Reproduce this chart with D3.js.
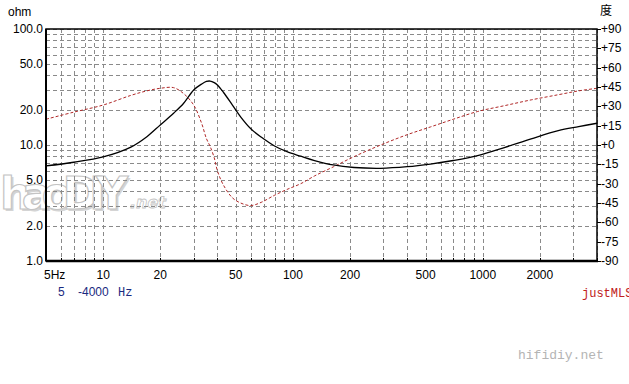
<!DOCTYPE html>
<html>
<head>
<meta charset="utf-8">
<script src="https://cdn.jsdelivr.net/npm/d3@7"></script>
<style>
    body { margin: 0; background: #fff; }
    svg { display: block; font-family: "Liberation Sans", Arial, sans-serif; }
</style>
</head>
<body>
<div id="chart"></div>
<script>
const freqHz = [5, 7, 10, 14, 17, 20, 23.5, 26.5, 30, 33, 35, 36.6, 38.5, 40, 43, 48, 53, 60, 68, 80,
    93, 110, 130, 163, 210, 290, 400, 530, 700, 940, 1300, 1800, 2500, 3200, 4000];
const impedanceOhm = [6.6, 7.1, 7.9, 9.6, 11.8, 14.9, 18.8, 22.8, 29.8, 33.5, 35.3, 35.6, 34.5, 32.9, 28.5, 22.1, 17.5, 13.8, 11.7, 9.8,
    8.75, 8.0, 7.35, 6.73, 6.4, 6.3, 6.5, 6.85, 7.35, 8.1, 9.5, 11.3, 13.3, 14.4, 15.4];
const phaseDeg = [20, 25.5, 31, 38.5, 42, 44, 44.5, 40, 31, 17, 5, -1, -10, -20, -31, -41, -45, -47, -44.5, -39,
    -34.5, -30, -24, -17, -9, 0, 8, 14, 20, 26, 30.5, 35, 39, 42, 44];

const ohmLabels = [1, 2, 5, 10, 20, 50, 100];
const hzLabels = [5, 10, 20, 50, 100, 200, 500, 1000, 2000];
const phaseLabels = [90, 75, 60, 45, 30, 15, 0, -15, -30, -45, -60, -75, -90];

const W = 629, H = 384;
const plot = { left: 46, right: 597, top: 29, bottom: 261 };

const svg = d3.select("#chart").append("svg").attr("width", W).attr("height", H);

const x = d3.scaleLog().domain([5, 4000]).range([plot.left, plot.right]);
const y = d3.scaleLog().domain([1, 100]).range([plot.bottom, plot.top]);
const yPhase = d3.scaleLinear().domain([-90, 90]).range([plot.bottom, plot.top]);

// watermark logo
const logo = svg.append("g").attr("font-family", "'DejaVu Sans', sans-serif").attr("font-weight", "bold");
logo.append("text").attr("x", 2).attr("y", 211).attr("font-size", 44).attr("textLength", 128)
    .attr("fill", "#d4d4d4").text("haoDIY");
logo.append("text").attr("x", 0).attr("y", 209).attr("font-size", 44).attr("textLength", 128)
    .attr("fill", "#fff").attr("stroke", "#c4c4c4").attr("stroke-width", 1.2).text("haoDIY");
logo.append("text").attr("x", 130).attr("y", 208).attr("font-size", 16).attr("font-style", "italic")
    .attr("fill", "#fff").attr("stroke", "#c4c4c4").attr("stroke-width", 0.8).text(".net");

// grid
const grid = svg.append("g").attr("stroke", "#8a8a8a").attr("stroke-dasharray", "4,3").attr("stroke-width", 1);
grid.selectAll(".vg").data(x.ticks()).enter().append("line")
    .attr("x1", d => Math.round(x(d)) + 0.5).attr("x2", d => Math.round(x(d)) + 0.5)
    .attr("y1", plot.top).attr("y2", plot.bottom);
grid.selectAll(".hg").data(y.ticks()).enter().append("line")
    .attr("y1", d => Math.round(y(d)) + 0.5).attr("y2", d => Math.round(y(d)) + 0.5)
    .attr("x1", plot.left).attr("x2", plot.right);

// bottom inward ticks
svg.append("g").selectAll("line").data(x.ticks()).enter().append("line")
    .attr("x1", d => Math.round(x(d)) + 0.5).attr("x2", d => Math.round(x(d)) + 0.5)
    .attr("y1", plot.bottom - 3).attr("y2", plot.bottom)
    .attr("stroke", "#000");

// curves
const pts = freqHz.map((f, i) => ({ f, z: impedanceOhm[i], p: phaseDeg[i] }));

svg.append("path").datum(pts)
    .attr("fill", "none").attr("stroke", "#b02828").attr("stroke-width", 1)
    .attr("stroke-dasharray", "3,2")
    .attr("d", d3.line().x(d => x(d.f)).y(d => yPhase(d.p)).curve(d3.curveCatmullRom.alpha(0.5)));

svg.append("path").datum(pts)
    .attr("fill", "none").attr("stroke", "#000").attr("stroke-width", 1.3)
    .attr("d", d3.line().x(d => x(d.f)).y(d => y(d.z)).curve(d3.curveCatmullRom.alpha(0.5)));

// frame
svg.append("rect").attr("x", plot.left).attr("y", plot.top)
    .attr("width", plot.right - plot.left).attr("height", plot.bottom - plot.top)
    .attr("fill", "none").attr("stroke", "#000").attr("stroke-width", 1.5);
svg.append("line").attr("x1", plot.left).attr("x2", plot.right + 1)
    .attr("y1", plot.bottom).attr("y2", plot.bottom).attr("stroke", "#000").attr("stroke-width", 2.5);
svg.append("line").attr("x1", plot.left).attr("x2", plot.left)
    .attr("y1", plot.top).attr("y2", plot.bottom).attr("stroke", "#000").attr("stroke-width", 2);

// left axis
const leftAxis = svg.append("g").attr("font-size", 12).attr("fill", "#000");
leftAxis.selectAll("text").data(ohmLabels).enter().append("text")
    .attr("x", plot.left - 3).attr("y", d => y(d) + 4).attr("text-anchor", "end")
    .text(d => d.toFixed(1));
svg.append("text").attr("x", 8).attr("y", 16).attr("font-size", 12).text("ohm");

// right axis
const rightAxis = svg.append("g");
rightAxis.selectAll("line").data(phaseLabels).enter().append("line")
    .attr("x1", plot.right).attr("x2", plot.right + 4)
    .attr("y1", d => Math.round(yPhase(d)) + 0.5).attr("y2", d => Math.round(yPhase(d)) + 0.5)
    .attr("stroke", "#000");
rightAxis.selectAll("text").data(phaseLabels).enter().append("text")
    .attr("x", plot.right + 4).attr("y", d => yPhase(d) + 4).attr("font-size", 12)
    .text(d => (d >= 0 ? "+" : "") + d);
svg.append("text").attr("x", 600).attr("y", 15).attr("font-size", 12)
    .attr("font-family", "'Noto Sans CJK SC', sans-serif").text("度");

// bottom axis
svg.append("g").selectAll("text").data(hzLabels).enter().append("text")
    .attr("x", d => d === 5 ? plot.left - 2 : x(d)).attr("y", 279).attr("font-size", 12)
    .attr("text-anchor", d => d === 5 ? "start" : "middle")
    .text(d => d === 5 ? "5Hz" : d);

// range footer
const footer = svg.append("g").attr("fill", "#1a2a80").attr("font-size", 12);
footer.append("text").attr("x", 58).attr("y", 296).text("5");
footer.append("text").attr("x", 78).attr("y", 296).text("-4000");
footer.append("text").attr("x", 118).attr("y", 296).attr("font-family", "'Liberation Mono', monospace").text("Hz");

svg.append("text").attr("x", 582).attr("y", 297).attr("font-size", 12)
    .attr("font-family", "'Liberation Mono', monospace").attr("fill", "#c02020").text("justMLS");

svg.append("text").attr("x", 518).attr("y", 359).attr("font-size", 13)
    .attr("font-family", "'Liberation Mono', monospace").attr("fill", "#b4b4b4").text("hifidiy.net");
</script>
</body>
</html>
